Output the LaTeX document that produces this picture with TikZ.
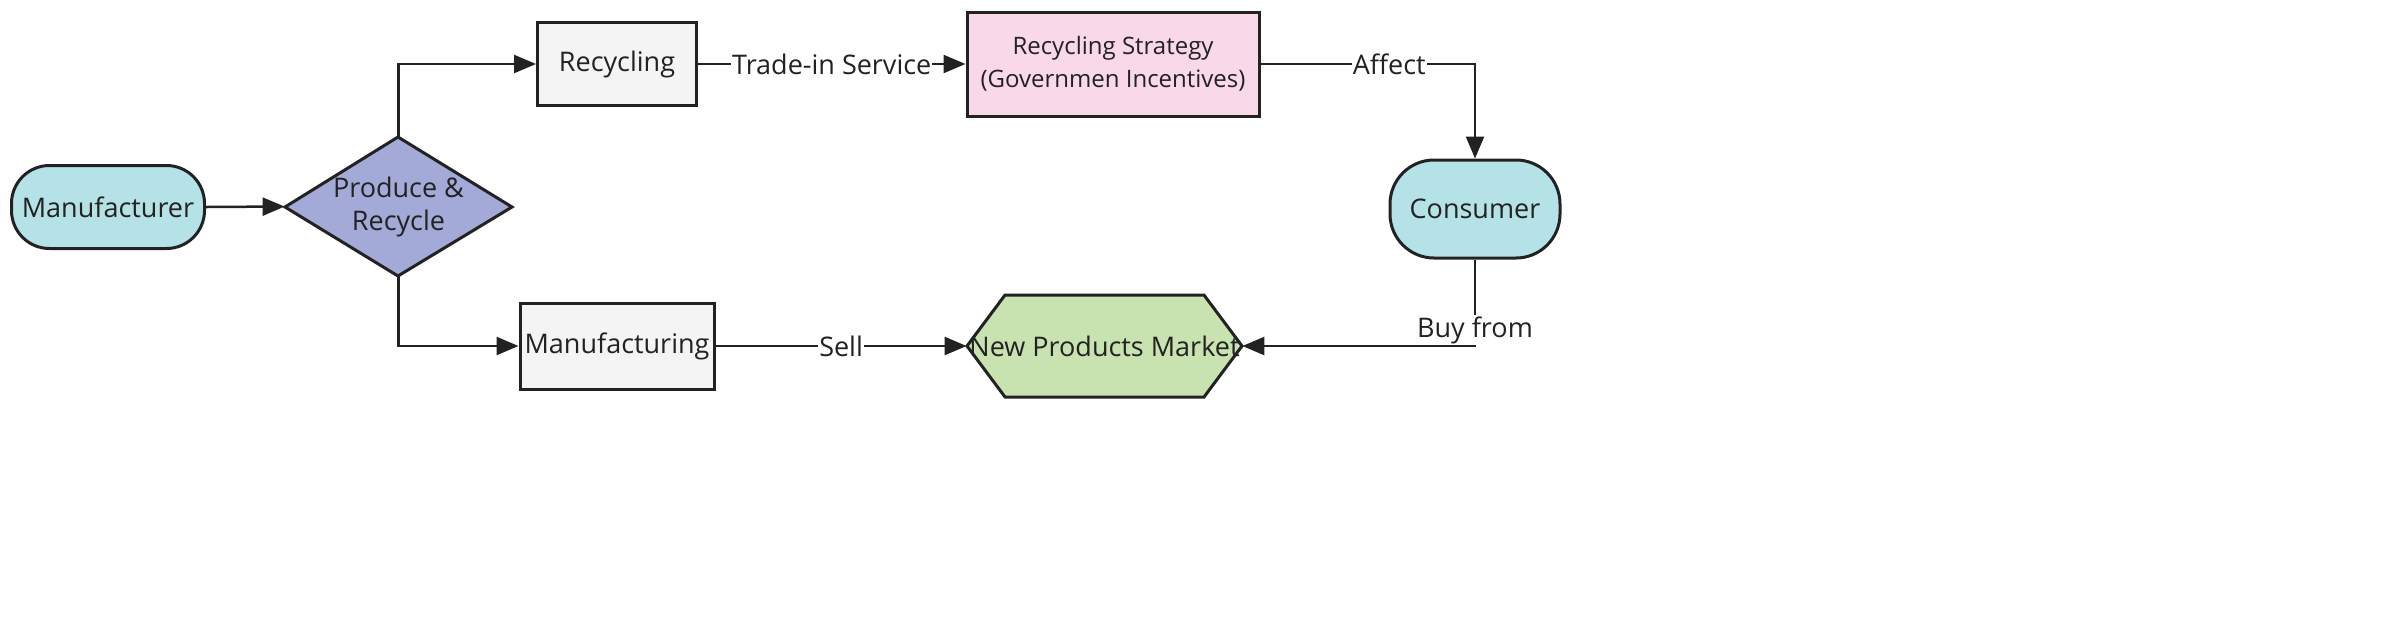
\documentclass[tikz,border=0pt]{standalone}
\usepackage{fontspec}
\setmainfont{Open Sans}
\usetikzlibrary{arrows.meta}
\definecolor{ln}{HTML}{222222}
\definecolor{cyanf}{HTML}{B5E2E6}
\definecolor{greyf}{HTML}{F4F4F4}
\definecolor{pinkf}{HTML}{F9D9E9}
\definecolor{purf}{HTML}{A4AAD8}
\definecolor{grnf}{HTML}{C8E2B0}
\begin{document}
\begin{tikzpicture}[x=0.5pt,y=-0.5pt,
 box/.style={draw=ln,line width=1.5pt,minimum width=#1,inner sep=0pt,font=\fontsize{13.5}{16.5}\selectfont,text=ln,align=center},
 ghost/.style={inner sep=0pt,font=\fontsize{13.5}{16.5}\selectfont,text=ln,align=center},
 arr/.style={draw=ln,line width=1.25pt,-{Triangle[length=11pt,width=9pt]}},
 lab/.style={fill=white,inner sep=0.5pt,font=\fontsize{13.5}{16.5}\selectfont,text=ln}]
\useasboundingbox (0,0) rectangle (2386,617);
\node[box=96.5pt,minimum height=41.5pt,rounded corners=19pt,fill=cyanf] (man) at (108,207) {Manufacturer};
\node[box=85pt,minimum height=49pt,rounded corners=22pt,fill=cyanf] (con) at (1475,209) {Consumer};
\node[box=79.5pt,minimum height=41.5pt,fill=greyf] (rec) at (617,64) {Recycling};
\node[box=97pt,minimum height=43pt,fill=greyf] (mfg) at (617,346) {Manufacturing};
\node[box=146pt,minimum height=52pt,fill=pinkf,font=\fontsize{12}{16.5}\selectfont] (str) at (1113,64) {Recycling Strategy\\(Governmen Incentives)};
\fill[purf] (285,207)--(398,137)--(512,207)--(398,276)--cycle;
\draw[ln,line width=1.5pt,line join=miter] (285,207)--(398,137)--(512,207)--(398,276)--cycle;
\node[ghost,minimum width=113.5pt,minimum height=69.5pt] (dia) at (398.5,206.5) {Produce \&\\Recycle};
\fill[grnf] (967,346)--(1005,295)--(1204,295)--(1242,346)--(1204,397)--(1005,397)--cycle;
\draw[ln,line width=1.5pt] (967,346)--(1005,295)--(1204,295)--(1242,346)--(1204,397)--(1005,397)--cycle;
\node[ghost,minimum width=137.5pt,minimum height=51pt] (mkt) at (1104.5,346) {New Products Market};
\draw[arr] (man.east)--(dia.west);
\draw[arr] (dia.north)|-(rec.west);
\draw[arr] (dia.south)|-(mfg.west);
\draw[arr] (rec.east)--node[lab]{Trade-in Service}(str.west);
\draw[arr] (str.east)-|node[lab,pos=0.3]{Affect}(con.north);
\draw[arr] (mfg.east)--node[lab]{Sell}(mkt.west);
\draw[arr] (con.south)|-(mkt.east);
\node[lab] (buy) at (1475,330) {Buy from};
\end{tikzpicture}
\end{document}
